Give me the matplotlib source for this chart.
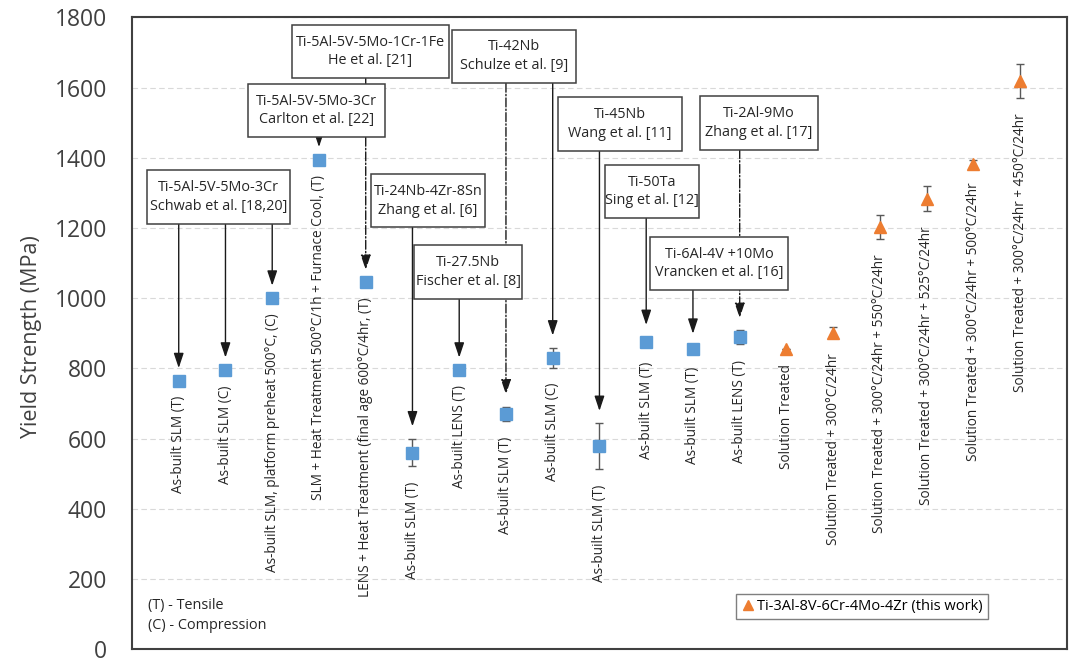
import numpy as np
import matplotlib.pyplot as plt
from matplotlib.patches import Rectangle
from matplotlib.lines import Line2D

plt.rcParams['font.family'] = ['Open Sans', 'DejaVu Sans']

# literature values (blue squares)
lit_labels = ["As-built SLM (T)", "As-built SLM (C)",
              "As-built SLM, platform preheat 500°C, (C)",
              "SLM + Heat Treatment 500°C/1h + Furnace Cool, (T)",
              "LENS + Heat Treatment (final age 600°C/4hr, (T)",
              "As-built SLM (T)", "As-built LENS (T)", "As-built SLM (T)",
              "As-built SLM (C)", "As-built SLM (T)", "As-built SLM (T)",
              "As-built SLM (T)", "As-built LENS (T)"]
lit_ys = [765, 795, 1000, 1395, 1045, 560, 795, 670, 830, 578, 876, 855, 888]
lit_err = [0, 0, 0, 0, 0, 39, 0, 20, 28, 65, 12, 8, 20]

# this work (orange triangles)
work_labels = ["Solution Treated", "Solution Treated + 300°C/24hr",
               "Solution Treated + 300°C/24hr + 550°C/24hr",
               "Solution Treated + 300°C/24hr + 525°C/24hr",
               "Solution Treated + 300°C/24hr + 500°C/24hr",
               "Solution Treated + 300°C/24hr + 450°C/24hr"]
work_ys = [855, 902, 1203, 1284, 1383, 1619]
work_err = [0, 15, 33, 35, 10, 48]
work_name = "Ti-3Al-8V-6Cr-4Mo-4Zr (this work)"

# reference boxes: text, centre x, centre y, width, [(target point, line style)]
boxes = [
    ("Ti-5Al-5V-5Mo-3Cr\nSchwab et al. [18,20]", 1.85, 1288, 3.06, [(1, '-'), (2, '-'), (3, '-')]),
    ("Ti-5Al-5V-5Mo-1Cr-1Fe\nHe et al. [21]", 5.10, 1703, 3.36, [(5, '-.')]),
    ("Ti-5Al-5V-5Mo-3Cr\nCarlton et al. [22]", 3.95, 1535, 2.93, [(4, '-')]),
    ("Ti-24Nb-4Zr-8Sn\nZhang et al. [6]", 6.33, 1278, 2.44, [(6, '-')]),
    ("Ti-27.5Nb\nFischer et al. [8]", 7.19, 1075, 2.31, [(7, '-')]),
    ("Ti-42Nb\nSchulze et al. [9]", 8.17, 1689, 2.66, [(8, '-.'), (9, '-')]),
    ("Ti-45Nb\nWang et al. [11]", 10.44, 1496, 2.65, [(10, '-')]),
    ("Ti-2Al-9Mo\nZhang et al. [17]", 13.41, 1500, 2.52, [(13, '-.')]),
    ("Ti-50Ta\nSing et al. [12]", 11.12, 1304, 2.01, [(11, '-')]),
    ("Ti-6Al-4V +10Mo\nVrancken et al. [16]", 12.56, 1099, 2.95, [(12, '-')]),
]
box_h = 153

blue = '#5b9bd5'
orange = '#ed7d31'
dark = '#404040'
txtc = '#262626'

lit_x = np.arange(1, len(lit_ys) + 1)
work_x = np.arange(len(lit_ys) + 1, len(lit_ys) + len(work_ys) + 1)
all_x = np.concatenate([lit_x, work_x])
all_y = np.array(lit_ys + work_ys)
all_err = np.array(lit_err + work_err)
all_labels = lit_labels + work_labels

fig = plt.figure(figsize=(10.8, 6.62), dpi=100)
ax = fig.add_axes([0.1222, 0.0196, 0.8657, 0.954])

ax.errorbar(lit_x, lit_ys, yerr=lit_err, fmt='s', color=blue, ms=9,
            ecolor='#595959', elinewidth=1, capsize=3, zorder=4)
ax.errorbar(work_x, work_ys, yerr=work_err, fmt='^', color=orange, ms=9,
            ecolor='#595959', elinewidth=1, capsize=3, zorder=4)

# rotated labels under each point
for x, y, e, lab in zip(all_x, all_y, all_err, all_labels):
    ax.annotate(lab, (x, y - e), xytext=(0, -11), textcoords='offset points',
                rotation=90, ha='center', va='top', fontsize=9.8, color=txtc)

# boxes + arrows
for txt, xc, yc, w, targets in boxes:
    ax.add_patch(Rectangle((xc - w / 2, yc - box_h / 2), w, box_h, facecolor='white',
                           edgecolor=dark, lw=1.1, zorder=3))
    ax.text(xc, yc, txt, ha='center', va='center', fontsize=10.4, color=txtc,
            linespacing=1.35, zorder=3.5)
    for t, ls in targets:
        ax.annotate('', xy=(all_x[t - 1], all_y[t - 1] + all_err[t - 1]),
                    xytext=(all_x[t - 1], yc - box_h / 2),
                    arrowprops=dict(arrowstyle='-|>,head_length=0.9,head_width=0.3',
                                    color='#1a1a1a', lw=1.0, ls=ls, mutation_scale=10,
                                    shrinkA=0, shrinkB=9),
                    zorder=2)

ax.text(0.017, 0.053, "(T) - Tensile\n(C) - Compression", transform=ax.transAxes,
        ha='left', va='center', fontsize=10.4, color=txtc, linespacing=1.4)

ax.set_xlim(0, 20)
ax.set_ylim(0, 1800)
ax.set_xticks([])
ax.set_yticks(np.arange(0, 1801, 200))
ax.tick_params(axis='y', length=0, pad=18, labelsize=16.5, labelcolor=dark)
ax.yaxis.grid(True, ls=(0, (5, 3)), color='#d9d9d9', lw=0.8)
ax.set_axisbelow(True)
for s in ax.spines.values():
    s.set_color(dark)
    s.set_linewidth(1.5)

fig.text(0.0296, 0.4917, "Yield Strength (MPa)", rotation=90, ha='center', va='center',
         fontsize=15.5, color=dark)

handle = Line2D([], [], marker='^', color=orange, ls='none', ms=6.5)
leg = ax.legend([handle], [work_name], loc='lower right', bbox_to_anchor=(0.923, 0.036),
                fontsize=10.5, fancybox=False, edgecolor='#7f7f7f', framealpha=1,
                handletextpad=0.1, handlelength=1.0, borderpad=0.35)
leg.get_frame().set_linewidth(1.0)

fig.savefig('out.png', dpi=100)
